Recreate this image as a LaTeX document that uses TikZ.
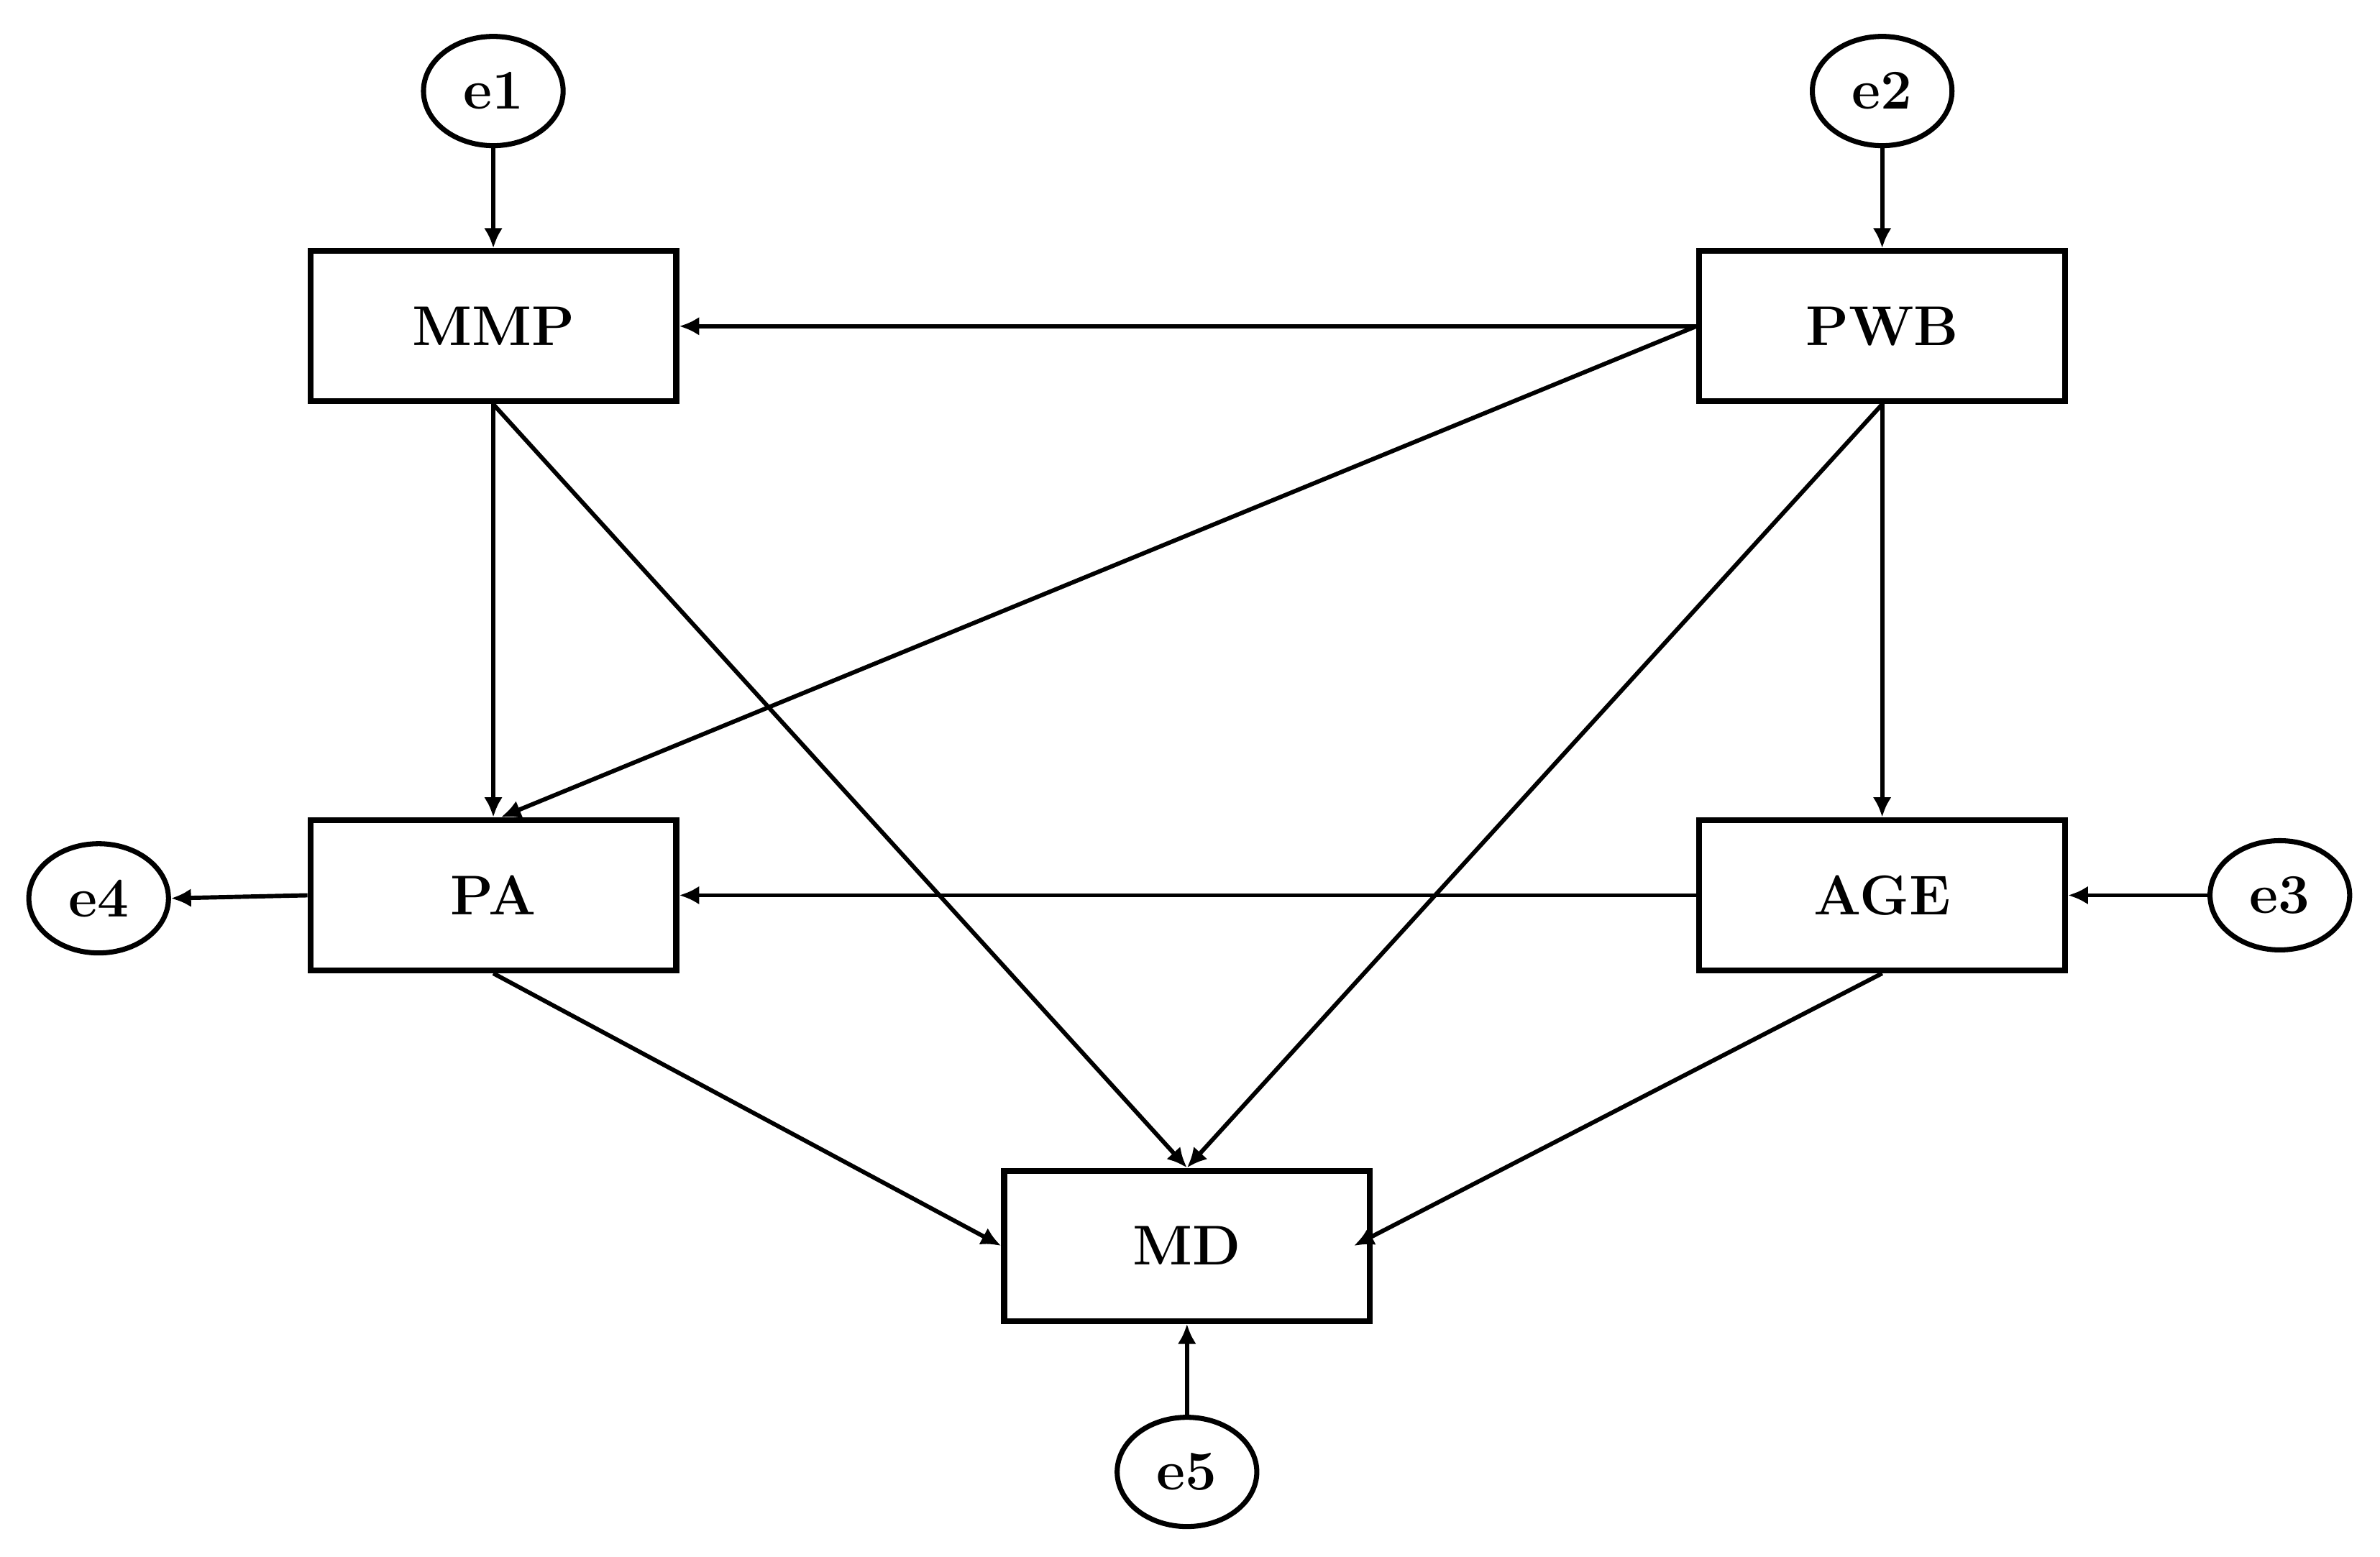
\documentclass[tikz,border=0pt]{standalone}
\usepackage{tikz}
\usetikzlibrary{arrows.meta, shapes.geometric}

\begin{document}
\begin{tikzpicture}[
	var/.style = {draw, line width = 2.2pt, minimum width = 4.82 cm, minimum height = 1.98 cm, font = \fontsize{21}{25}\selectfont\bfseries},
	err/.style = {draw, ellipse, line width = 1.9pt, minimum width = 1.84 cm, minimum height = 1.44 cm, inner sep = 0pt, font = \fontsize{21}{25}\selectfont\bfseries},
	path/.style = {line width = 1.6pt, -{Latex[length = 7.5pt, width = 7pt]}}
	]
	\useasboundingbox[fill = white] (0, 0) rectangle (31.36, 20.52);
	
	\node[var] (mmp) at (6.5, 16.22) {MMP};
	\node[var] (pwb) at (24.8, 16.22) {PWB};
	\node[var] (pa) at (6.5, 8.72) {PA};
	\node[var] (age) at (24.8, 8.72) {AGE};
	\node[var] (md) at (15.64, 4.1) {MD};
	
	\node[err] (e1) at (6.5, 19.32) {e1};
	\node[err] (e2) at (24.8, 19.32) {e2};
	\node[err] (e3) at (30.04, 8.72) {e3};
	\node[err] (e4) at (1.3, 8.68) {e4};
	\node[err] (e5) at (15.64, 1.12) {e5};
	
	\draw[path] (e1) -- (mmp);
	\draw[path] (e2) -- (pwb);
	\draw[path] (e3) -- (age);
	\draw[path] (pa.west) -- (e4.east);
	\draw[path] (e5) -- (md);
	
	\draw[path] (pwb.west) -- (mmp.east);
	\draw[path] (pwb.west) -- ([xshift = 0.1 cm]pa.north);
	\draw[path] (mmp.south) -- (pa.north);
	\draw[path] (mmp.south) -- (md.north);
	\draw[path] (pwb.south) -- (md.north);
	\draw[path] (pwb.south) -- (age.north);
	\draw[path] (age.west) -- (pa.east);
	\draw[path] (pa.south) -- (md.west);
	\draw[path] (age.south) -- ([xshift = -0.25 cm]md.east);
\end{tikzpicture}
\end{document}
